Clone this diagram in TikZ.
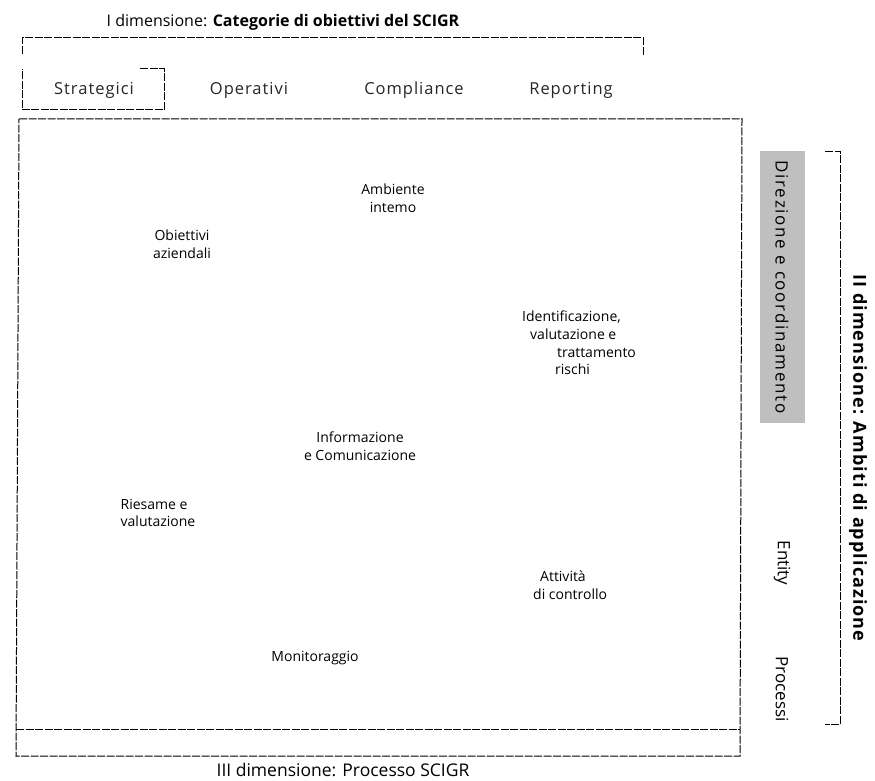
\documentclass[tikz,border=0pt]{standalone}
\usepackage{fontspec}
\setmainfont{Open Sans}
\begin{document}
\begin{tikzpicture}[x=1pt,y=-1pt,
  frameline/.style={line width=1pt, dash pattern=on 8pt off 1.5pt},
  body/.style={font=\fontsize{14}{17.6}\selectfont, align=left, inner sep=0pt},
  cat/.style={font=\fontsize{16.5}{19}\selectfont\addfontfeature{LetterSpace=6}\color{black!85}, inner sep=0pt},
  dimlabel/.style={font=\fontsize{16}{19}\selectfont, inner sep=0pt},
  side/.style={font=\fontsize{17}{19}\selectfont, rotate=-90, inner sep=0pt}]
\useasboundingbox (0,0) rectangle (875,781);

% ---- I dimensione
\node[dimlabel] (dim1) at (283,22) {I dimensione: {\fontseries{sb}\selectfont Categorie di obiettivi del SCIGR}};
\draw[frameline] (22,54) -- (22,38) -- (643,38) -- (643,56);

\draw[frameline] (140,69) -- (164,69) -- (164,110) -- (22,110) -- (22,69);
\node[cat] (strat) at (94,90) {Strategici};
\node[cat] (oper) at (249,90) {Operativi};
\node[cat] (compl) at (414,90) {Compliance};
\node[cat] (rep) at (571,90) {Reporting};

% ---- main frame
\draw[frameline] (19,119) -- (742,119) -- (740,756) -- (16,756) -- cycle;
\draw[frameline] (16,729) -- (740,729);
\node[dimlabel, font=\fontsize{17.5}{20}\selectfont] (dim3) at (343,770) {III dimensione: Processo SCIGR};

% ---- components
\node[body, align=center] (amb) at (393,198) {Ambiente\\intemo};
\node[body, align=center] (obj) at (182,244) {Obiettivi\\aziendali};
\node[body, anchor=north west] (idv) at (522,311) {Identificazione,\\\hspace*{8pt}valutazione e\\\hspace*{35pt}trattamento\\\hspace*{33pt}rischi};
\node[body, align=center] (info) at (360,446) {Informazione\\e Comunicazione};
\node[body] (ries) at (158,513) {Riesame e\\valutazione};
\node[body, anchor=north west] (att) at (533,571) {\hspace*{7pt}Attività\\di controllo};
\node[body] (mon) at (315,658) {Monitoraggio};

% ---- II dimensione
\fill[black!25] (760,151) rectangle (805,423);
\node[side, font=\fontsize{17}{19}\selectfont\addfontfeature{LetterSpace=10}] (dir) at (782,287) {Direzione e coordinamento};
\node[side] (ent) at (782,563) {Entity};
\node[side] (proc) at (782,689) {Processi};
\draw[frameline] (825,151) -- (840,151) -- (840,724) -- (825,724);
\node[dimlabel, rotate=-90, font=\fontsize{18}{20}\selectfont\addfontfeature{LetterSpace=6}\fontseries{sb}\selectfont] (dim2) at (858,458) {II dimensione: Ambiti di applicazione};
\end{tikzpicture}
\end{document}
